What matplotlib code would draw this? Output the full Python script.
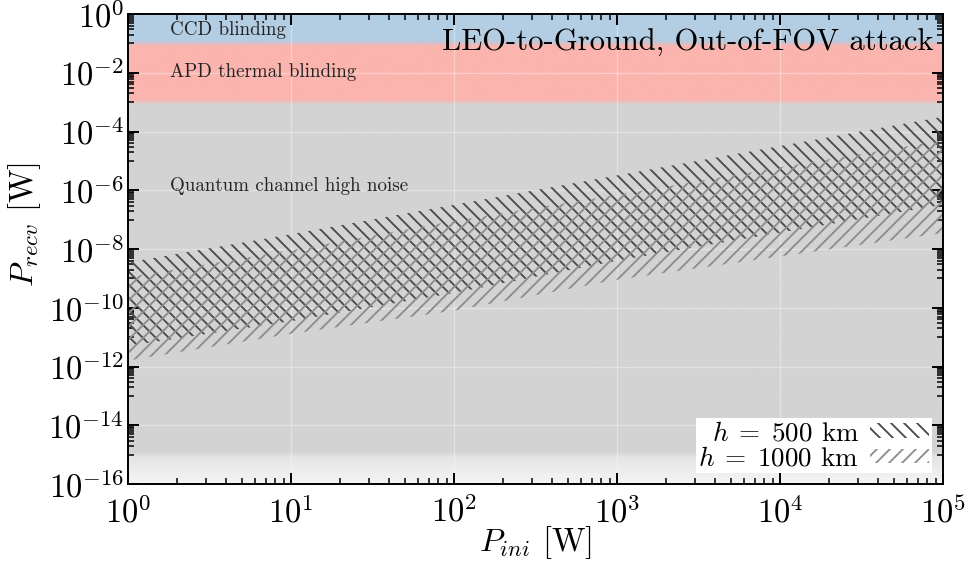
import numpy as np
import matplotlib as mpl
mpl.use('Agg')
import matplotlib.pyplot as plt
from matplotlib.ticker import FixedLocator, FuncFormatter, NullFormatter

plt.rcParams['font.family'] = 'serif'
plt.rcParams['font.serif'] = ['cmr10']
plt.rcParams['mathtext.fontset'] = 'cm'
plt.rcParams['axes.unicode_minus'] = False
plt.rcParams['axes.formatter.use_mathtext'] = True
plt.rcParams['hatch.linewidth'] = 1.7

# received power bands vs initial power
p_ini = [1e0, 1e1, 1e2, 1e3, 1e4, 1e5]
h500_lo = [5e-12, 3.5e-11, 3.2e-10, 4e-9, 3.6e-8, 3.2e-7]
h500_hi = [3.5e-9, 3.2e-8, 3.2e-7, 3.2e-6, 3.2e-5, 3.2e-4]
h1000_lo = [1.6e-12, 1.3e-11, 8e-11, 9e-10, 5.6e-9, 3.5e-8]
h1000_hi = [1.1e-9, 9e-9, 9e-8, 7e-7, 6e-6, 5e-5]

# attack regimes (background bands)
band_names = ['CCD blinding', 'APD thermal blinding', 'Quantum channel high noise']
band_lo = [1e-1, 1e-3, 1e-15]
band_hi = [1e0, 1e-1, 1e-3]
band_colors = ['#b3cde3', '#fbb4ae', '#d3d3d3']
band_label_y = [2.9e-1, 1.1e-2, 1.4e-6]

y_ticks = 10.0 ** np.arange(-16, 1, 2)
y_minor = [m * 10.0 ** d for d in range(-15, 0, 2) for m in range(1, 10)]

dpi = 78
fig = plt.figure(figsize=(966 / dpi, 565 / dpi), dpi=dpi)
ax = fig.add_axes([128 / 966, 81 / 565, 815 / 966, 470 / 565])

# background image in axes coords, one row per 0.2 decade of y,
# bilinear interpolation gives the soft band edges
rows = np.arange(-16, 0, 0.2) + 0.1
img = np.ones((len(rows), 1, 3))
for i, c in enumerate(rows):
    col = None
    for lo, hi, color in zip(band_lo, band_hi, band_colors):
        if np.log10(lo) <= c < np.log10(hi):
            col = mpl.colors.to_rgb(color)
    if col is None:
        g = 0.96 - 0.07 * (c + 16)
        col = (g, g, g)
    img[i, 0] = col
ax.imshow(img, extent=(0, 1, 0, 1), transform=ax.transAxes, origin='lower',
          aspect='auto', interpolation='bilinear', zorder=0)

ax.set_xscale('log')
ax.set_yscale('log')

ax.fill_between(p_ini, h500_lo, h500_hi, facecolor='none', edgecolor='#4a4a4a',
                hatch='\\\\', linewidth=0, zorder=2, label=r'$h\;=\;500$ km')
ax.fill_between(p_ini, h1000_lo, h1000_hi, facecolor='none', edgecolor='#8c8c8c',
                hatch='//', linewidth=0, zorder=2, label=r'$h\;=\;1000$ km')

for name, yy in zip(band_names, band_label_y):
    ax.text(1.8, yy, name, fontsize=17.5, va='center', color='#222222', zorder=3)

ax.text(0.989, 0.938, 'LEO-to-Ground, Out-of-FOV attack', transform=ax.transAxes,
        ha='right', va='center', fontsize=28.3, zorder=3)

ax.set_xlim(1, 1e5)
ax.set_ylim(1e-16, 1)
ax.yaxis.set_major_locator(FixedLocator(y_ticks))
ax.yaxis.set_minor_locator(FixedLocator(y_minor))
ax.yaxis.set_minor_formatter(NullFormatter())
ax.yaxis.set_major_formatter(FuncFormatter(lambda v, p: r'$10^{%d}$' % round(np.log10(v))))
ax.xaxis.set_major_formatter(FuncFormatter(lambda v, p: r'$10^{%d}$' % round(np.log10(v))))

ax.grid(which='major', color='white', linewidth=1.2, alpha=0.35)
ax.set_axisbelow(True)
ax.tick_params(which='both', direction='in', top=True, right=True, labelsize=30)
ax.tick_params(which='major', length=10, width=1.8)
ax.tick_params(which='minor', length=5.5, width=1.4)
ax.tick_params(axis='x', pad=11)
for s in ax.spines.values():
    s.set_linewidth(1.8)

ax.set_xlabel(r'$P_{ini}$ [W]', fontsize=30, labelpad=-4)
ax.set_ylabel(r'$P_{recv}$ [W]', fontsize=30, labelpad=2)
ax.yaxis.set_label_coords(-0.104, 0.553)

leg = ax.legend(loc='lower right', fontsize=25, markerfirst=False, fancybox=False,
                framealpha=1, edgecolor='none', borderaxespad=0.4, labelspacing=0.05,
                borderpad=0.1, handletextpad=0.4, handlelength=2.2, handleheight=0.45)
leg.set_zorder(4)

fig.savefig('out.png', dpi=dpi)
